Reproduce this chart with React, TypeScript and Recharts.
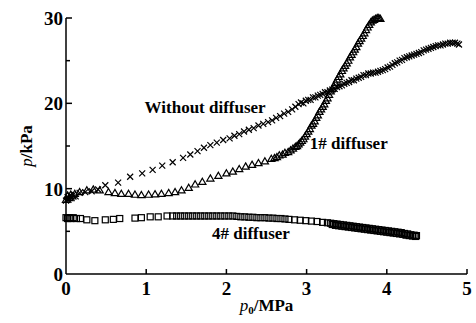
import React from "react";
import { ReferenceDot, Scatter, ScatterChart, XAxis, YAxis } from "recharts";

// Without diffuser (x markers)
const withoutP0 = [
  0, 0.02, 0.03, 0.05, 0.07, 0.09, 0.12, 0.17, 0.24, 0.32, 0.4, 0.49, 0.65, 0.8, 0.95, 1.08, 1.2, 1.33, 1.46, 1.55,
  1.64, 1.72, 1.8, 1.88, 1.96, 2.04, 2.1, 2.16, 2.22, 2.28, 2.34, 2.4, 2.46, 2.52, 2.57, 2.62, 2.67, 2.72, 2.77, 2.82,
  2.86, 2.9, 2.93, 2.96, 2.99, 3.02, 3.05, 3.08, 3.11, 3.14, 3.17, 3.2, 3.23, 3.26, 3.29, 3.32, 3.35, 3.38, 3.41, 3.44,
  3.47, 3.5, 3.53, 3.56, 3.59, 3.62, 3.65, 3.68, 3.71, 3.74, 3.77, 3.8, 3.83, 3.86, 3.89, 3.92, 3.95, 3.98, 4.01, 4.04,
  4.07, 4.1, 4.13, 4.16, 4.19, 4.22, 4.25, 4.28, 4.31, 4.34, 4.37, 4.4, 4.43, 4.46, 4.49, 4.52, 4.55, 4.58, 4.61, 4.64,
  4.67, 4.7, 4.73, 4.76, 4.79, 4.82, 4.85, 4.88, 4.9,
];
const withoutP = [
  8.6, 9.0, 8.7, 9.2, 8.9, 9.3, 9.1, 9.5, 9.6, 9.7, 9.9, 10.4, 10.7, 11.4, 11.8, 12.2, 12.7, 13.1, 13.6, 14.0,
  14.4, 14.8, 15.1, 15.4, 15.7, 15.9, 16.2, 16.4, 16.7, 16.9, 17.1, 17.4, 17.6, 17.8, 18.0, 18.3, 18.5, 18.8, 19.0, 19.3,
  19.6, 19.9, 20.1, 20.0, 20.3, 20.4, 20.4, 20.7, 20.7, 20.9, 21.0, 21.1, 21.3, 21.3, 21.5, 21.6, 21.7, 21.9, 22.0, 22.1,
  22.3, 22.4, 22.5, 22.7, 22.7, 22.9, 23.0, 23.1, 23.3, 23.3, 23.5, 23.5, 23.6, 23.6, 23.7, 23.8, 23.9, 24.0, 24.2, 24.3,
  24.5, 24.7, 24.8, 25.0, 25.1, 25.3, 25.4, 25.5, 25.6, 25.7, 25.8, 25.9, 26.0, 26.2, 26.3, 26.4, 26.5, 26.6, 26.7, 26.8,
  26.8, 26.9, 27.0, 27.0, 27.1, 27.1, 27.1, 27.0, 26.9,
];

// 1# diffuser (triangles)
const d1P0 = [
  0, 0.02, 0.04, 0.06, 0.08, 0.11, 0.17, 0.26, 0.34, 0.42, 0.53, 0.61, 0.69, 0.78, 0.86, 0.94, 1.03, 1.11, 1.19, 1.28,
  1.36, 1.44, 1.53, 1.61, 1.7, 1.8, 1.9, 2.0, 2.08, 2.16, 2.24, 2.32, 2.4, 2.48, 2.56, 2.6, 2.63, 2.66, 2.7, 2.73,
  2.77, 2.8, 2.83, 2.86, 2.88, 2.9, 2.92, 2.94, 2.96, 2.98, 3.0, 3.02, 3.04, 3.06, 3.08, 3.1, 3.12, 3.14, 3.16, 3.18,
  3.2, 3.22, 3.24, 3.26, 3.28, 3.3, 3.32, 3.34, 3.36, 3.38, 3.4, 3.42, 3.44, 3.46, 3.48, 3.5, 3.52, 3.54, 3.56, 3.58,
  3.6, 3.62, 3.64, 3.66, 3.68, 3.7, 3.72, 3.74, 3.76, 3.78, 3.8, 3.82, 3.84, 3.86, 3.88, 3.9, 3.92,
];
const d1P = [
  8.7, 9.2, 8.9, 9.3, 9.1, 9.4, 9.6, 9.8, 9.9, 9.8, 9.6, 9.5, 9.4, 9.4, 9.3, 9.25, 9.3, 9.35, 9.4, 9.5,
  9.6, 9.8, 10.1, 10.5, 10.8, 11.2, 11.5, 11.8, 12.0, 12.3, 12.6, 12.8, 13.0, 13.2, 13.5, 13.6, 13.7, 13.9, 14.0, 14.2,
  14.3, 14.5, 14.7, 14.9, 15.0, 15.2, 15.4, 15.6, 15.8, 16.1, 16.4, 16.7, 17.0, 17.4, 17.6, 17.9, 18.3, 18.6, 19.0, 19.3,
  19.6, 19.9, 20.3, 20.6, 21.0, 21.4, 21.7, 22.0, 22.4, 22.8, 23.1, 23.4, 23.8, 24.1, 24.4, 24.7, 25.0, 25.4, 25.7, 26.0,
  26.3, 26.6, 27.0, 27.3, 27.6, 27.9, 28.2, 28.6, 28.9, 29.2, 29.5, 29.7, 29.8, 29.9, 30.0, 30.0, 29.9,
];

// 4# diffuser (squares)
const d4P0 = [
  0, 0.02, 0.04, 0.06, 0.09, 0.13, 0.18, 0.26, 0.36, 0.49, 0.59, 0.67, 0.86, 0.94, 1.05, 1.15, 1.26, 1.33, 1.38, 1.43,
  1.48, 1.53, 1.58, 1.63, 1.68, 1.73, 1.78, 1.83, 1.88, 1.93, 1.98, 2.03, 2.08, 2.13, 2.18, 2.23, 2.28, 2.33, 2.38, 2.43,
  2.48, 2.53, 2.58, 2.63, 2.68, 2.73, 2.78, 2.85, 2.92, 2.99, 3.06, 3.13, 3.2, 3.26, 3.3, 3.32, 3.34, 3.36, 3.38, 3.4,
  3.42, 3.44, 3.46, 3.48, 3.5, 3.52, 3.54, 3.56, 3.58, 3.6, 3.62, 3.64, 3.66, 3.68, 3.7, 3.72, 3.74, 3.76, 3.78, 3.8,
  3.82, 3.84, 3.86, 3.88, 3.9, 3.92, 3.94, 3.96, 3.98, 4.0, 4.02, 4.04, 4.06, 4.08, 4.1, 4.12, 4.14, 4.16, 4.18, 4.2,
  4.22, 4.24, 4.26, 4.28, 4.3, 4.32, 4.34, 4.36, 4.37,
];
const d4P = [
  6.6, 6.5, 6.6, 6.5, 6.6, 6.5, 6.5, 6.35, 6.25, 6.35, 6.4, 6.5, 6.55, 6.6, 6.7, 6.7, 6.8, 6.8, 6.8, 6.8,
  6.8, 6.8, 6.8, 6.8, 6.8, 6.8, 6.8, 6.8, 6.8, 6.8, 6.8, 6.8, 6.8, 6.75, 6.7, 6.7, 6.65, 6.65, 6.6, 6.6,
  6.6, 6.55, 6.55, 6.5, 6.5, 6.45, 6.4, 6.35, 6.3, 6.25, 6.2, 6.15, 6.05, 6.0, 5.95, 5.8, 5.9, 5.7, 5.85, 5.65,
  5.8, 5.6, 5.75, 5.55, 5.7, 5.5, 5.65, 5.45, 5.6, 5.4, 5.55, 5.35, 5.5, 5.3, 5.45, 5.25, 5.4, 5.2, 5.35, 5.15,
  5.3, 5.1, 5.25, 5.05, 5.2, 5.0, 5.15, 4.95, 5.1, 4.9, 5.05, 4.85, 5.0, 4.8, 4.95, 4.75, 4.9, 4.7, 4.85, 4.65,
  4.75, 4.55, 4.7, 4.5, 4.6, 4.45, 4.55, 4.4, 4.5,
];

const xTicks = [0, 1, 2, 3, 4, 5];
const yTicks = [0, 5, 10, 15, 20, 25, 30];

const pairs = (xs: number[], ys: number[]) => xs.map((x, i) => ({ x, y: ys[i] }));
const withoutData = pairs(withoutP0, withoutP);
const d1Data = pairs(d1P0, d1P);
const d4Data = pairs(d4P0, d4P);

const FONT = "'Liberation Serif', 'Times New Roman', serif";

const CrossMark = ({ cx, cy }: any) => (
  <path d={`M${cx - 3},${cy - 3}L${cx + 3},${cy + 3}M${cx - 3},${cy + 3}L${cx + 3},${cy - 3}`} stroke="#000" strokeWidth={1.2} />
);
const TriMark = ({ cx, cy }: any) => (
  <path d={`M${cx},${cy - 3.6}L${cx + 3.6},${cy + 2.6}L${cx - 3.6},${cy + 2.6}Z`} fill="none" stroke="#000" strokeWidth={1.2} />
);
const SquareMark = ({ cx, cy }: any) => (
  <rect x={cx - 3} y={cy - 3} width={6} height={6} fill="none" stroke="#000" strokeWidth={1.2} />
);

const YTick = ({ x, y, payload }: any) => {
  const v = payload.value;
  const major = v % 10 === 0;
  return (
    <g>
      {v !== 0 && <line x1={x} x2={x + (major ? 6 : 4)} y1={y} y2={y} stroke="#000" strokeWidth={1.5} />}
      {major && (
        <text x={x - 3} y={y} dy={7} textAnchor="end" fontFamily={FONT} fontWeight="bold" fontSize={19} fill="#000">
          {v}
        </text>
      )}
    </g>
  );
};

const XTick = ({ x, y, payload }: any) => {
  const v = payload.value;
  return (
    <g>
      {v !== 0 && <line x1={x} x2={x} y1={y} y2={y - 5} stroke="#000" strokeWidth={1.5} />}
      <text x={x} y={y} dy={21} textAnchor="middle" fontFamily={FONT} fontWeight="bold" fontSize={19} fill="#000">
        {v}
      </text>
    </g>
  );
};

const Note = (text: string) => ({ cx, cy }: any) => (
  <text x={cx} y={cy} fontFamily={FONT} fontWeight="bold" fontSize={17} fill="#000">
    {text}
  </text>
);

export default function App() {
  return (
    <div style={{ position: "absolute", left: 0, top: 0, background: "#fff" }}>
      <ScatterChart width={476} height={323} margin={{ top: 18, right: 9, bottom: 0, left: 0 }}>
        <XAxis
          type="number"
          dataKey="x"
          domain={[0, 5]}
          ticks={xTicks}
          height={49}
          tickSize={0}
          tickMargin={0}
          tick={<XTick />}
          axisLine={{ stroke: "#000", strokeWidth: 1.5 }}
          label={{
            content: ({ viewBox }: any) => (
              <text x={viewBox.x + viewBox.width / 2} y={311} textAnchor="middle" fontFamily={FONT} fontWeight="bold" fontSize={17} fill="#000">
                <tspan fontStyle="italic" fontWeight="normal">p</tspan>
                <tspan fontSize={11} dy={3}>0</tspan>
                <tspan dy={-3}>/MPa</tspan>
              </text>
            ),
          }}
        />
        <YAxis
          type="number"
          dataKey="y"
          domain={[0, 30]}
          ticks={yTicks}
          width={66}
          tickSize={0}
          tickMargin={0}
          tick={<YTick />}
          axisLine={{ stroke: "#000", strokeWidth: 1.5 }}
          label={{
            content: ({ viewBox }: any) => (
              <text
                x={27}
                y={viewBox.y + viewBox.height / 2}
                transform={`rotate(-90, 27, ${viewBox.y + viewBox.height / 2})`}
                textAnchor="middle"
                dy={5}
                fontFamily={FONT}
                fontWeight="bold"
                fontSize={17}
                fill="#000"
              >
                <tspan fontStyle="italic" fontWeight="normal">p</tspan>
                <tspan>/kPa</tspan>
              </text>
            ),
          }}
        />
        <Scatter data={withoutData} shape={<CrossMark />} isAnimationActive={false} />
        <Scatter data={d1Data} shape={<TriMark />} isAnimationActive={false} />
        <Scatter data={d4Data} shape={<SquareMark />} isAnimationActive={false} />
        <ReferenceDot x={0.98} y={18.9} r={0} shape={Note("Without diffuser")} />
        <ReferenceDot x={3.04} y={14.65} r={0} shape={Note("1# diffuser")} />
        <ReferenceDot x={1.82} y={4.1} r={0} shape={Note("4# diffuser")} />
      </ScatterChart>
    </div>
  );
}
